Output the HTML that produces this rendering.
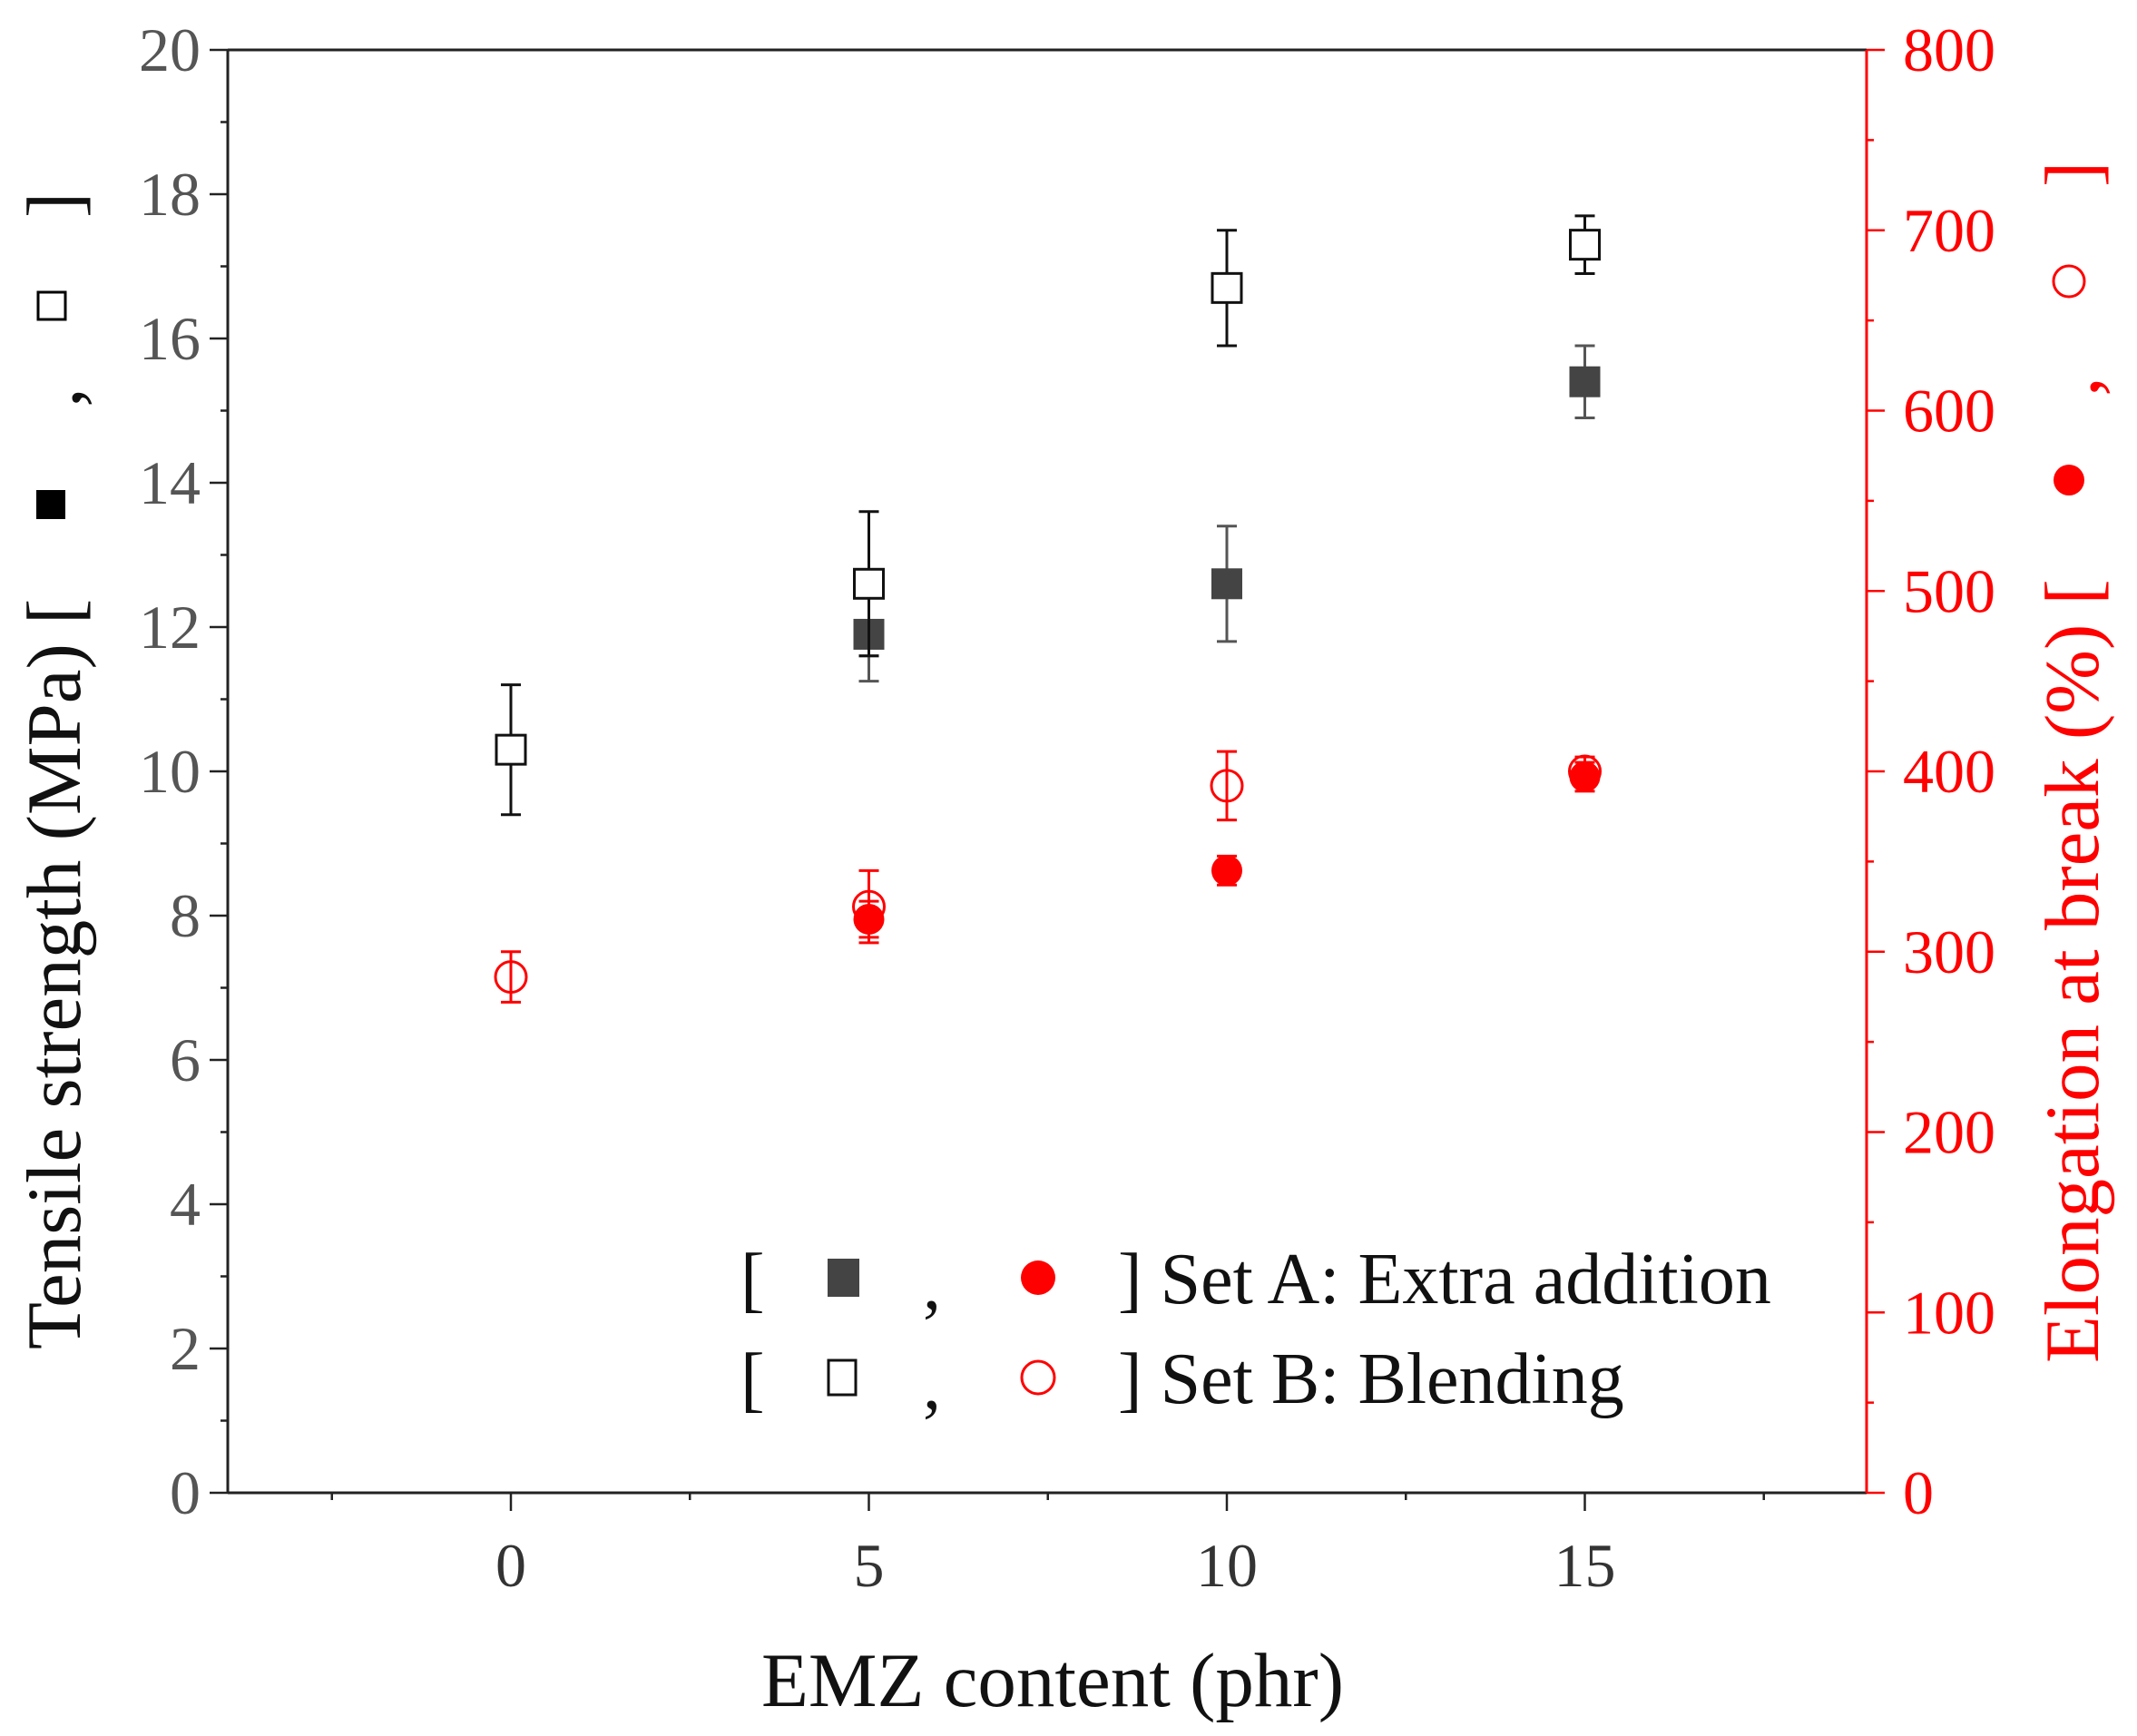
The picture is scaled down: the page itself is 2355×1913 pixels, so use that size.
<!DOCTYPE html>
<html><head><meta charset="utf-8"><style>
html,body{margin:0;padding:0;background:#fff;}
svg{display:block;font-family:"Liberation Serif",serif;}
</style></head><body>
<svg id="chart" width="2355" height="1913" viewBox="0 0 2355 1913"></svg>
<script>
const xCats = [0, 5, 10, 15];
const tsA = [null, 11.9, 12.6, 15.4];
const tsAErrLo = [null, 11.25, 11.8, 14.9];
const tsAErrHi = [null, 11.6, 13.4, 15.9];
const tsB = [10.3, 12.6, 16.7, 17.3];
const tsBErrLo = [9.4, 11.6, 15.9, 16.9];
const tsBErrHi = [11.2, 13.6, 17.5, 17.7];
const elA = [null, 318, 345, 397];
const elAErr = [null, 10, 8, 8];
const elB = [286, 325, 392, 400];
const elBErr = [14, 20, 19, 8];
const xTicks = [0, 5, 10, 15];
const yLTicks = [0,2,4,6,8,10,12,14,16,18,20];
const yRTicks = [0,100,200,300,400,500,600,700,800];

const NS="http://www.w3.org/2000/svg";
const svg=document.getElementById('chart');
const L=251,R=2057,T=55,B=1645;
const X=v=>563+v*78.9;
const YL=v=>B-v/20*(B-T);
const YR=v=>B-v/800*(B-T);
function mk(tag,attrs,parent){const e=document.createElementNS(NS,tag);for(const k in attrs)e.setAttribute(k,attrs[k]);(parent||svg).appendChild(e);return e;}

let e;
e=mk('line',{x1:L,y1:T,x2:R,y2:T,stroke:'#222','stroke-width':3});


e=mk('line',{x1:L,y1:T,x2:L,y2:B,stroke:'#222','stroke-width':3});


e=mk('line',{x1:L,y1:B,x2:R,y2:B,stroke:'#222','stroke-width':3});


e=mk('line',{x1:R,y1:T,x2:R,y2:B,stroke:'#f00','stroke-width':3});



for(let v=-2.5;v<=17.5;v+=2.5){const maj=xTicks.includes(v);
 e=mk('line',{x1:X(v),y1:B,x2:X(v),y2:B+(maj?20:8),stroke:'#222','stroke-width':2.5});
 
 }
xTicks.forEach(v=>{e=mk('text',{x:X(v),y:B+103,'font-size':68,'text-anchor':'middle',fill:'#333'});e.textContent=v;
 
 });
for(let v=0;v<=20;v+=1){const maj=v%2===0;
 e=mk('line',{x1:L,y1:YL(v),x2:L-(maj?20:8),y2:YL(v),stroke:'#222','stroke-width':2.5});
 
 }
yLTicks.forEach(v=>{e=mk('text',{x:L-30,y:YL(v)+23,'font-size':68,'text-anchor':'end',fill:'#555'});e.textContent=v;
 
 });
for(let v=0;v<=800;v+=50){const maj=v%100===0;
 e=mk('line',{x1:R,y1:YR(v),x2:R+(maj?20:8),y2:YR(v),stroke:'#f00','stroke-width':2.5});
 
 }
yRTicks.forEach(v=>{e=mk('text',{x:R+40,y:YR(v)+23,'font-size':68,'text-anchor':'start',fill:'#f00'});e.textContent=v;
 
 });

e=mk('text',{x:1160,y:1880,'font-size':85,'text-anchor':'middle',fill:'#111'});e.textContent='EMZ content (phr)';



function vtext(cx,y,str,col,nm,anchor){
 const t=mk('text',{transform:'translate('+cx+','+y+') rotate(-90)','font-size':85,'text-anchor':anchor||'start',fill:col});
 t.textContent=str;
 
 
}
vtext(88,1487,'Tensile strength (MPa) [','#111','left-y-axis-title');
vtext(88,438,',','#111','left-title-comma','middle');
vtext(88,226,']','#111','left-title-bracket','middle');
vtext(2312,1502,'Elongation at break (%) [','#f00','right-y-axis-title');
vtext(2312,426,',','#f00','right-title-comma','middle');
vtext(2312,192,']','#f00','right-title-bracket','middle');

e=mk('rect',{x:40,y:540,width:32,height:32,fill:'#000'});


e=mk('rect',{x:42,y:322,width:30,height:30,fill:'#fff',stroke:'#000','stroke-width':3});


e=mk('circle',{cx:2280,cy:529,r:17,fill:'#f00'});


e=mk('circle',{cx:2280,cy:310,r:17,fill:'#fff',stroke:'#f00','stroke-width':3});



function err(x,lo,hi,col,name){
 const g=mk('g',{stroke:col,'stroke-width':3});
 
 
 mk('line',{x1:x,y1:lo,x2:x,y2:hi},g);
 mk('line',{x1:x-11,y1:lo,x2:x+11,y2:lo},g);
 mk('line',{x1:x-11,y1:hi,x2:x+11,y2:hi},g);
}
xCats.forEach((c,i)=>{if(elA[i]==null)return;const x=X(c);
 err(x,YR(elA[i]-elAErr[i]),YR(elA[i]+elAErr[i]),'#f00','elongation-a-errorbar');
 e=mk('circle',{cx:x,cy:YR(elA[i]),r:17,fill:'#f00'});
 
 });
xCats.forEach((c,i)=>{const x=X(c);
 err(x,YR(elB[i]-elBErr[i]),YR(elB[i]+elBErr[i]),'#f00','elongation-b-errorbar');
 e=mk('circle',{cx:x,cy:YR(elB[i]),r:17,fill:'none',stroke:'#f00','stroke-width':3});
 
 });
xCats.forEach((c,i)=>{if(tsA[i]==null)return;const x=X(c);
 err(x,YL(tsAErrLo[i]),YL(tsAErrHi[i]),'#555','tensile-a-errorbar');
 e=mk('rect',{x:x-17,y:YL(tsA[i])-17,width:34,height:34,fill:'#444'});
 
 });
xCats.forEach((c,i)=>{const x=X(c);
 err(x,YL(tsBErrLo[i]),YL(tsBErrHi[i]),'#111','tensile-b-errorbar');
 e=mk('rect',{x:x-16,y:YL(tsB[i])-16,width:32,height:32,fill:'#fff',stroke:'#111','stroke-width':3});
 
 });

const lg=mk('g',{});


function legRow(y,filled,label,nm){
 const g=mk('g',{},lg);
 
 
 let t=mk('text',{x:816,y:y+28,'font-size':80,fill:'#111'},g);t.textContent='[';
 t=mk('text',{x:1017,y:y+34,'font-size':80,fill:'#111'},g);t.textContent=',';
 t=mk('text',{x:1232,y:y+28,'font-size':80,fill:'#111'},g);t.textContent='] '+label;
 if(filled){mk('rect',{x:912,y:y-21,width:35,height:42,fill:'#444'},g);mk('circle',{cx:1144,cy:y,r:19,fill:'#f00'},g);}
 else{mk('rect',{x:913,y:y-19,width:30,height:38,fill:'#fff',stroke:'#111','stroke-width':3},g);mk('circle',{cx:1144,cy:y,r:18,fill:'none',stroke:'#f00','stroke-width':3},g);}
}
legRow(1408,true,'Set A: Extra addition','legend-entry-set-a');
legRow(1518,false,'Set B: Blending','legend-entry-set-b');
</script>
</body></html>
